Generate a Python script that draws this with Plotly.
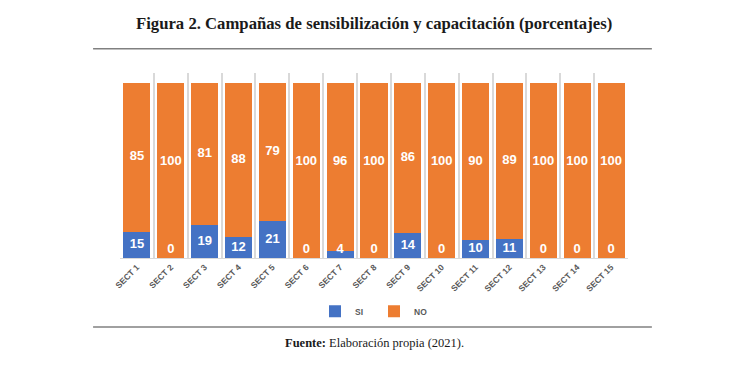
import plotly.graph_objects as go

categories = [f"SECT {i}" for i in range(1, 16)]
si_values = [15, 0, 19, 12, 21, 0, 4, 0, 14, 0, 10, 11, 0, 0, 0]
no_values = [85, 100, 81, 88, 79, 100, 96, 100, 86, 100, 90, 89, 100, 100, 100]

BLUE = "#4472C4"
ORANGE = "#ED7D31"
LABEL_FONT = dict(family="Liberation Sans, Arial, sans-serif", size=13, color="white", weight="bold")

fig = go.Figure()
fig.add_trace(go.Bar(x=categories, y=si_values, name="SI", marker=dict(color=BLUE, line=dict(width=0))))
fig.add_trace(go.Bar(x=categories, y=no_values, name="NO", marker=dict(color=ORANGE, line=dict(width=0))))

# data labels (positioned from the data values, nudged up where the segment is small)
si_label_y = [max(v / 2, 4.5) for v in si_values]
no_label_y = [max(s + n / 2, 55) for s, n in zip(si_values, no_values)]
fig.add_trace(go.Scatter(x=categories, y=si_label_y, text=[str(v) for v in si_values], mode="text",
                         textfont=LABEL_FONT, showlegend=False, hoverinfo="skip"))
fig.add_trace(go.Scatter(x=categories, y=no_label_y, text=[str(v) for v in no_values], mode="text",
                         textfont=LABEL_FONT, showlegend=False, hoverinfo="skip"))

# the page body has an 8px default margin, so the figure is 8px smaller in each direction
fig.update_layout(
    width=742, height=362,
    barmode="stack", bargap=0.2,
    paper_bgcolor="white", plot_bgcolor="white",
    margin=dict(l=112, r=122, t=65, b=112, autoexpand=False),
    font=dict(family="Liberation Sans, Arial, sans-serif"),
    legend=dict(orientation="h", x=0.5, xanchor="center", y=-0.288, yanchor="middle",
                traceorder="normal", entrywidth=14, entrywidthmode="pixels",
                font=dict(size=8.5, color="#595959", weight="bold"), itemwidth=30,
                bgcolor="rgba(0,0,0,0)"),
    xaxis=dict(tickson="boundaries", showgrid=True, gridcolor="#d9d9d9", gridwidth=2,
               showline=True, linecolor="#d9d9d9", linewidth=1, ticks="",
               tickangle=-45, tickfont=dict(size=8.5, color="#595959", weight="bold"),
               range=[-0.5, 14.5], zeroline=False, automargin=False),
    yaxis=dict(range=[0, 105.5], showgrid=False, showticklabels=False, zeroline=False,
               showline=False, automargin=False),
    shapes=[
        dict(type="line", xref="paper", yref="paper", x0=-0.053, x1=1.047, y0=1.131, y1=1.131,
             line=dict(color="#808080", width=1.5)),
        dict(type="line", xref="paper", yref="paper", x0=-0.053, x1=1.047, y0=-0.373, y1=-0.373,
             line=dict(color="#808080", width=1.5)),
    ],
    annotations=[
        dict(text="<b>Figura 2. Campañas de sensibilización y capacitación (porcentajes)</b>",
             xref="paper", yref="paper", x=0.5, y=1.265, xanchor="center", yanchor="middle",
             showarrow=False, font=dict(family="Liberation Serif, serif", size=16.7, color="#1a1a1a")),
        dict(text="<b>Fuente:</b> Elaboración propia (2021).",
             xref="paper", yref="paper", x=0.5, y=-0.459, xanchor="center", yanchor="middle",
             showarrow=False, font=dict(family="Liberation Serif, serif", size=12.5, color="#1a1a1a")),
    ],
)

fig.write_html("out.html")
